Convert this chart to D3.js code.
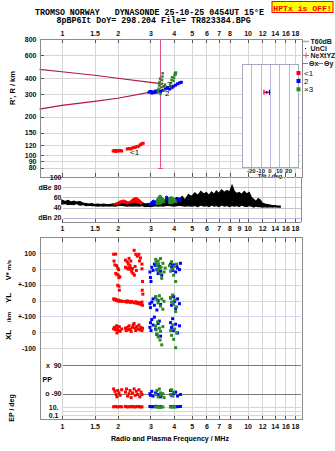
<!DOCTYPE html>
<html><head><meta charset="utf-8">
<script src="https://cdn.jsdelivr.net/npm/d3@7/dist/d3.min.js"></script>
<style>
body{margin:0;background:#fff;}
svg{display:block;}
text{font-family:"Liberation Sans",Arial,sans-serif;}
.mono{font-family:"Liberation Mono","DejaVu Sans Mono",monospace;white-space:pre;}
</style></head><body>
<svg id="c" width="335" height="451"></svg>
<script>
// ---------------- DATA ----------------
const titleLine1 = "TROMSO NORWAY   DYNASONDE 25-10-25 0454UT 15°E";
const titleLine2 = "8pBP6It DoY= 298.204 File= TR823384.BPG";
const warnText = "HPTx is OFF!";
const freqTicks = [1,1.5,2,3,4,5,6,7,8,10,12,14,16,18];
const freqTicksMid = [1,1.5,2,3,4,5,6,7,8,9,10,12,14,16,18];
const rangeTicks = [800,600,400,300,200,150,120,100,90,80];
const dbTicks = [100,80,60,40,20];
const dbTickLabels = ["100","dBe 80","60","40","dBn 20"];
const velTicks = [100,0,-100,-200,-300,-400,-500];
const velTickLabels = ["100","0","+-100","0","+-100","0","-100"];
const ppTicks = [90,-90];
const ppTickLabels = ["x  90","o -90"];
const epTicks = [10,0.1];
const epTickLabels = ["10.","0.1"];
const tiltTicks = [-20,-10,0,10,20];

// model curves (R', R km) dark red
const curveUpperF = [0.758,1.0,1.5,2.0,3.0,3.5];
const curveUpperR = [467,447,420,398,370,360];
const curveLowerF = [0.758,1.0,1.5,2.0,3.0,4.0];
const curveLowerR = [229,245,263,278,310,332];
// NeXtYZ vertical marker
const nexF = 3.36, nexLo = 80, nexHi = 800;

// echo traces (freq MHz, virtual range km)
const echo1 = [[1.89,108],[1.92,109],[1.95,107],[1.98,109],[2.02,108],[2.06,109],[2.1,108],
  [2.25,112],[2.3,113],[2.35,112],[2.4,114],[2.45,115],[2.5,116],[2.55,117],[2.6,118],[2.65,121],[2.7,123],[2.74,124]];
const echo2 = [[2.95,310],[3.0,314],[3.05,305],[3.1,312],[3.15,308],[3.2,316],[3.25,310],[3.3,318],[3.4,314],[3.5,320],
  [3.6,330],[3.7,336],[3.8,328],[3.9,340],[4.0,345],[4.1,352],[4.2,360],[4.3,366],[4.4,370]];
const echo3 = [[3.3,310],[3.32,330],[3.34,350],[3.36,372],[3.38,395],[3.3,320],[3.45,340],[3.46,360],[3.47,385],[3.48,410],[3.49,435],
  [3.4,300],[3.55,320],[3.56,345],
  [3.85,345],[3.87,365],[3.9,385],[3.92,405],[4.0,380],[4.02,400],[4.04,420],[4.06,438],[4.1,425],[4.12,440]];

// amplitude (dB) noise band, black
const noiseF  = [1.0,1.04,1.08,1.12,1.16,1.2,1.25,1.3,1.35,1.4,1.45,1.5,1.56,1.62,1.68,1.74,1.8,1.87,1.94,2.0,2.08,2.16,2.24,2.32,2.4,2.5,2.6,2.7,2.8,2.9,3.0,3.1,3.2,3.3,3.4,3.5,3.6,3.7,3.85,4.0,4.15,4.3,4.45,4.6,4.8,5.0,5.2,5.4,5.6,5.8,6.0,6.2,6.4,6.6,6.8,7.0,7.25,7.5,7.75,8.0,8.25,8.5,8.75,9.0,9.3,9.6,9.9,10.2,10.5,10.8,11.1,11.4,11.7,12.0,12.4,12.8,13.2,13.6,14.0,14.5,15.0];
const noiseLo = [47,48,46,47,46,48,45,46,44,45,44,44,43,44,43,44,43,44,43,44,45,44,43,44,43,44,43,44,42,43,42,43,44,43,44,43,44,45,44,43,44,45,44,43,44,43,44,42,45,43,44,42,45,43,44,42,45,43,44,42,44,43,44,42,45,43,42,44,43,41,43,42,42,41,42,41,42,41,42,41,41];
const noiseHi = [55,52,54,51,53,51,52,49,48,47,48,46,47,46,47,46,46,47,48,48,50,52,50,49,54,52,55,50,47,48,46,50,53,55,58,57,53,56,58,55,60,57,62,55,66,62,69,64,72,67,70,64,71,66,73,68,75,70,74,71,84,72,68,70,66,72,67,70,60,56,52,58,55,49,47,46,45,44,44,43,43];
// coloured echo amplitudes
const ampRedF  = [1.9,1.95,2.0,2.05,2.1,2.15,2.2,2.25,2.3,2.35,2.4,2.45,2.5,2.55,2.6,2.65,2.7];
const ampRedLo = [45,46,47,48,49,49,48,47,48,49,50,51,50,49,48,47,46];
const ampRedHi = [47,49,51,53,54,55,54,52,51,54,57,59,60,59,57,54,50];
const ampBlue = [[2.95,44,48],[3.0,44,50],[3.05,45,53],[3.1,46,55],[3.15,46,54],[3.2,47,52]];
const ampBlue2 = [[3.62,55,62],[3.68,56,63],[3.74,54,60]];
const ampBlue3 = [[4.17,52,58],[4.25,52,60],[4.32,53,58],[4.4,52,56]];
const ampGreen = [[3.22,45,55],[3.28,46,60],[3.34,47,64],[3.4,46,65],[3.46,48,61],[3.52,50,58],[3.58,49,56]];
const ampGreen2 = [[3.76,48,58],[3.84,47,62],[3.92,48,61],[4.0,49,60],[4.08,50,57],[4.15,49,55]];

// V* (m/s)
const vRed = [[1.9,92],[1.95,93],[1.91,49],[1.93,25],[1.97,20],[2.0,4],[2.02,-5],[1.95,-29],[1.98,-35],[2.01,-40],[2.03,-56],[2.05,-50],
  [2.0,-104],[2.03,-110],[2.04,-135],[2.2,55],[2.25,45],[2.3,66],[2.35,49],[2.2,10],[2.24,5],[2.28,-2],[2.32,8],[2.36,-5],[2.4,2],
  [2.38,-19],[2.42,-30],[2.46,-40],[2.45,117],[2.5,92],[2.55,80],[2.6,92],[2.65,69],[2.62,50],[2.7,30],[2.7,0],[2.72,-80],[2.71,-135],[2.73,-160],[2.48,15],[2.52,-10],[2.28,30],[2.33,20]];
const vBlue = [[2.98,-20],[3.0,-55],[3.02,-80],[3.05,10],[3.1,-10],[3.15,30],[3.2,20],[3.25,-5],[3.3,-30],[3.35,15],[3.4,-15],[3.45,-40],
  [3.85,30],[3.9,10],[3.95,-10],[4.0,25],[4.1,-20],[4.15,20],[4.2,5],[4.3,-5],[4.35,35]];
const vGreen = [[3.2,60],[3.22,40],[3.25,20],[3.28,-10],[3.3,50],[3.32,30],[3.35,0],[3.38,-30],[3.4,65],[3.42,10],[3.45,-60],[3.5,35],[3.55,-20],[3.6,5],
  [3.8,20],[3.85,-15],[3.9,45],[3.95,0],[4.0,-40],[4.05,15],[4.1,-80],[4.15,30]];
// YL (km)
const ylRed = [[1.9,10],[1.92,5],[1.95,8],[1.97,0],[2.0,-3],[2.02,2],[2.05,-5],[2.08,-2],[2.12,-6],[2.2,-5],[2.23,-10],[2.26,-3],[2.3,-8],[2.33,-12],
  [2.37,-6],[2.4,-10],[2.45,-14],[2.5,-8],[2.53,-18],[2.57,-12],[2.6,-20],[2.63,-15],[2.67,-25],[2.7,-10],[2.72,-30]];
const ylBlue = [[2.98,-20],[3.0,-45],[3.05,-10],[3.1,10],[3.15,-30],[3.2,20],[3.25,-60],[3.3,0],[3.4,-25],[3.85,15],[3.9,-30],[4.0,25],[4.05,-5],[4.1,-50],[4.2,10],[4.3,-20]];
const ylGreen = [[3.2,25],[3.25,5],[3.3,-15],[3.35,30],[3.4,-35],[3.45,10],[3.5,-55],[3.55,-5],[3.85,20],[3.9,-10],[3.95,35],[4.0,-25],[4.05,5],[4.1,-70],[4.15,-40]];
// XL (km)
const xlRed = [[1.9,20],[1.92,30],[1.95,15],[1.97,40],[2.0,25],[2.02,10],[2.04,35],[2.06,5],[1.98,-5],[2.1,20],[2.2,25],[2.22,10],[2.25,30],[2.28,15],
  [2.3,40],[2.33,20],[2.36,5],[2.4,30],[2.42,45],[2.45,55],[2.48,25],[2.5,10],[2.53,35],[2.57,20],[2.6,45],[2.63,15],[2.66,30],[2.7,10],[2.72,25]];
const xlBlue = [[2.98,30],[3.0,60],[3.02,10],[3.05,80],[3.1,45],[3.15,95],[3.2,20],[3.25,-15],[3.3,55],[3.35,70],[3.4,-25],[3.85,60],[3.9,30],[3.95,85],[4.0,10],[4.1,50],[4.2,-5],[4.3,40]];
const xlGreen = [[3.2,40],[3.22,15],[3.25,-10],[3.28,65],[3.3,-30],[3.35,25],[3.38,-50],[3.4,5],[3.45,-80],[3.5,35],[3.85,10],[3.9,-20],[3.95,45],[4.0,-45],[4.05,20],[4.1,-98],[4.15,-5]];
// PP (deg)
const ppRed = [[1.9,-60],[1.93,-75],[1.96,-95],[1.98,-110],[2.0,-70],[2.03,-85],[2.06,-100],[2.1,-65],[2.2,-80],[2.23,-60],[2.26,-105],[2.3,-90],
  [2.33,-70],[2.36,-115],[2.4,-85],[2.45,-60],[2.48,-100],[2.52,-75],[2.56,-95],[2.6,-65],[2.63,-110],[2.67,-80],[2.7,-95]];
const ppBlue = [[2.98,-90],[3.0,-100],[3.05,-75],[3.1,-105],[3.2,-85],[3.3,-95],[3.4,-110],[3.85,-70],[3.9,-100],[4.0,-90],[4.1,-80],[4.2,-105],[4.35,-95]];
const ppGreen = [[3.2,-95],[3.25,-70],[3.3,-110],[3.35,-60],[3.4,-85],[3.45,-100],[3.5,-90],[3.55,-115],[3.85,-95],[3.9,-65],[3.95,-105],[4.0,-80]];
// EP (deg)
const epRed = [[1.9,10],[1.95,12],[2.0,9],[2.05,11],[2.1,10],[2.2,12],[2.25,9],[2.3,11],[2.35,10],[2.4,12],[2.45,9],[2.5,10],[2.55,12],[2.6,11],[2.65,9],[2.7,10]];
const epBlue = [[2.98,12],[3.05,10],[3.1,11],[3.2,13],[3.3,10],[3.4,12],[3.85,11],[3.95,12],[4.1,10],[4.2,11],[4.35,12]];
const epGreen = [[3.2,9],[3.3,8],[3.35,10],[3.4,7],[3.5,9],[3.85,9],[3.95,8],[4.05,10]];
// tilt inset
const tiltX = [-3.5], tiltY = [13.5], tiltErr = [3];

// ---------------- DRAW ----------------
const C = {red:"#ff0000", blue:"#0000ff", green:"#2a8a2a", crim:"#b0183c", pink:"#e0508a",
  frame:"#8c8c8c", grid:"#d6d6d6", tick:"#555", dark:"#7a7a7a", lav:"#b8b8e0"};
const svg = d3.select("#c");
const L = 39.5, R = 301;
const fx = d3.scaleLog().domain([0.758,19.4]).range([L,R]);
const yR = d3.scaleLog().domain([67.4,800]).range([177.3,39.3]);
const dbL = 63;
const yDb = d3.scaleLinear().domain([12,100]).range([221.7,177.3]);
const yV = d3.scaleLinear().domain([-500,100]).range([348,253]);
const yPP = d3.scaleLinear().domain([-90,90]).range([393.7,365.3]);
const yEP = d3.scaleLog().domain([0.1,10]).range([415.3,406.8]);
const lowTop = 237, lowBot = 418.5;
const px = v => Math.round(v)+0.5;

// title
svg.append("text").attr("class","mono").attr("x",35).attr("y",15).attr("font-size",8.3).attr("font-weight","bold").text(titleLine1);
svg.append("text").attr("class","mono").attr("x",56.5).attr("y",23).attr("font-size",8.3).attr("font-weight","bold").text(titleLine2);
svg.append("rect").attr("x",272).attr("y",1.5).attr("width",61).attr("height",11).attr("fill","#ffff00").attr("stroke","#ff0000").attr("stroke-width",1);
svg.append("text").attr("class","mono").attr("x",302.5).attr("y",10.5).attr("text-anchor","middle").attr("font-size",8.1).attr("font-weight","bold").attr("fill","#ff0000").text(warnText);

function vgrid(g, ticks, y0, y1, x0){
  g.selectAll(null).data(ticks.filter(t=>fx(t)>=x0)).join("line")
    .attr("x1",d=>px(fx(d))).attr("x2",d=>px(fx(d))).attr("y1",y0).attr("y2",y1)
    .attr("stroke",C.grid).attr("shape-rendering","crispEdges");
}
function hgrid(g, vals, scale, x0, x1, color){
  g.selectAll(null).data(vals).join("line")
    .attr("x1",x0).attr("x2",x1).attr("y1",d=>px(scale(d))).attr("y2",d=>px(scale(d)))
    .attr("stroke",color||C.grid).attr("shape-rendering","crispEdges");
}
function styleAxis(g, size){
  g.select(".domain").remove();
  g.selectAll(".tick line").attr("stroke",C.tick).attr("shape-rendering","crispEdges");
  g.selectAll(".tick text").attr("font-size",size||7).attr("font-family","Liberation Sans, Arial, sans-serif").attr("font-weight","bold").attr("fill","#111");
}
function frame(x0,y0,x1,y1){
  svg.append("rect").attr("x",px(x0)).attr("y",px(y0)).attr("width",Math.round(x1-x0)).attr("height",Math.round(y1-y0))
    .attr("fill","none").attr("stroke",C.frame).attr("shape-rendering","crispEdges");
}

// ===== top panel =====
const gT = svg.append("g");
vgrid(gT, freqTicks, 39.3, 177.3, L);
hgrid(gT, rangeTicks.slice(1), yR, L, R);
// inset tilt box
const insX = d3.scaleLinear().domain([-30,30]).range([242,298]);
const insY = d3.scaleLinear().domain([-30,30]).range([167,64]);
gT.append("rect").attr("x",242.5).attr("y",64.5).attr("width",56).attr("height",103).attr("fill","#fff").attr("stroke","#a8a8c0").attr("shape-rendering","crispEdges");
gT.selectAll(null).data(tiltTicks).join("line").attr("x1",d=>px(insX(d))).attr("x2",d=>px(insX(d))).attr("y1",65).attr("y2",167)
  .attr("stroke",C.lav).attr("shape-rendering","crispEdges");
gT.selectAll(null).data(tiltTicks).join("text").attr("x",d=>insX(d)).attr("y",172.5).attr("text-anchor","middle")
  .attr("font-size",6).attr("font-weight","bold").attr("fill","#222").text(d=>d);
gT.append("text").attr("x",270).attr("y",177.5).attr("text-anchor","middle").attr("font-size",6).attr("font-weight","bold").attr("fill","#222").text("Tilt / deg");
tiltX.forEach((t,i)=>{
  const cx = insX(t), cy = insY(tiltY[i]), e = insX(t+tiltErr[i])-cx;
  gT.append("line").attr("x1",cx-e).attr("x2",cx+e).attr("y1",cy).attr("y2",cy).attr("stroke",C.red).attr("stroke-width",1.5);
  gT.append("line").attr("x1",cx-e).attr("x2",cx-e).attr("y1",cy-2.5).attr("y2",cy+2.5).attr("stroke",C.red).attr("stroke-width",1.2);
  gT.append("line").attr("x1",cx+e).attr("x2",cx+e).attr("y1",cy-2.5).attr("y2",cy+2.5).attr("stroke",C.blue).attr("stroke-width",1.2);
  gT.append("line").attr("x1",cx).attr("x2",cx).attr("y1",cy-1.5).attr("y2",cy+1.5).attr("stroke",C.blue).attr("stroke-width",1.2);
});
// curves
const lineR = d3.line().x(d=>fx(d[0])).y(d=>yR(d[1]));
gT.append("path").datum(curveUpperF.map((f,i)=>[f,curveUpperR[i]])).attr("d",lineR).attr("fill","none").attr("stroke",C.crim).attr("stroke-width",1.2);
gT.append("path").datum(curveLowerF.map((f,i)=>[f,curveLowerR[i]])).attr("d",lineR).attr("fill","none").attr("stroke",C.crim).attr("stroke-width",1.2);
// NeXtYZ
const nx = px(fx(nexF));
gT.append("line").attr("x1",nx).attr("x2",nx).attr("y1",yR(nexHi)).attr("y2",yR(nexLo)).attr("stroke",C.pink).attr("stroke-width",1);
[nexHi,nexLo].forEach(v=>gT.append("line").attr("x1",nx-2.5).attr("x2",nx+2.5).attr("y1",px(yR(v))).attr("y2",px(yR(v))).attr("stroke",C.pink));
// echoes
function squares(g, data, xs, ys, color, s){
  s = s||3;
  g.selectAll(null).data(data).join("rect").attr("x",d=>xs(d[0])-s/2).attr("y",d=>ys(d[1])-s/2).attr("width",s).attr("height",s).attr("fill",color);
}
squares(gT, echo1, fx, yR, C.red, 3);
squares(gT, echo2, fx, yR, C.blue, 3);
squares(gT, echo3, fx, yR, C.green, 2.5);
gT.append("text").attr("x",130).attr("y",155).attr("font-size",8).attr("fill","#000").text("<1");
gT.append("text").attr("x",165).attr("y",96).attr("font-size",8).attr("fill","#000").text("2");
gT.append("text").attr("x",163).attr("y",87).attr("font-size",7).attr("fill","#000").text("×3");
frame(L,39.3,R,177.3);
gT.append("g").attr("transform",`translate(0,39.3)`).call(d3.axisTop(fx).tickValues(freqTicks).tickFormat(d=>d).tickSize(-4).tickPadding(3)).call(styleAxis);
gT.append("g").attr("transform",`translate(0,177.3)`).call(d3.axisTop(fx).tickValues(freqTicks).tickFormat("").tickSize(4)).call(styleAxis);
gT.append("g").attr("transform",`translate(${L},0)`).call(d3.axisLeft(yR).tickValues(rangeTicks).tickFormat(d=>d).tickSize(-4).tickPadding(3)).call(styleAxis);
svg.append("text").attr("transform","translate(15,88) rotate(-90)").attr("text-anchor","middle").attr("font-size",7.5).attr("font-weight","bold").text("R', R / km");

// legend
const lg = svg.append("g").attr("font-size",7).attr("font-weight","bold").attr("fill","#111");
lg.append("line").attr("x1",303).attr("x2",309).attr("y1",41.5).attr("y2",41.5).attr("stroke","#aaa").attr("stroke-width",1.5);
lg.append("text").attr("x",310.5).attr("y",44).text("T60dB");
lg.append("rect").attr("x",305).attr("y",48).attr("width",1).attr("height",1).attr("fill","#000");
lg.append("text").attr("x",310.5).attr("y",51).text("UnCl");
lg.append("line").attr("x1",303).attr("x2",309).attr("y1",55.5).attr("y2",55.5).attr("stroke",C.pink);
lg.append("line").attr("x1",306).attr("x2",306).attr("y1",52.5).attr("y2",58.5).attr("stroke",C.pink);
lg.append("text").attr("x",310.5).attr("y",58).text("NeXtYZ");
lg.append("line").attr("x1",303).attr("x2",308).attr("y1",63.5).attr("y2",63.5).attr("stroke",C.pink);
lg.append("text").attr("x",309).attr("y",66).text("Θx");
lg.append("line").attr("x1",318).attr("x2",323).attr("y1",63.5).attr("y2",63.5).attr("stroke","#6a6ae0");
lg.append("text").attr("x",324).attr("y",66).text("Θy");
[[C.red,"<1",73],[C.blue," 2",81],[C.green,"×3",89.3]].forEach(([c,t,y])=>{
  lg.append("rect").attr("x",296.5).attr("y",y-2).attr("width",4).attr("height",4).attr("fill",c);
  lg.append("text").attr("x",304).attr("y",y+2.5).attr("font-size",8).attr("font-weight","normal").text(t);
});

// ===== dB panel =====
const gD = svg.append("g");
vgrid(gD, freqTicks, 177.3, 221.7, dbL);
hgrid(gD, [80,60,40], yDb, dbL, R, "#c4c4c4");
hgrid(gD, [20], yDb, dbL, R, C.lav);
const area = d3.area().x(d=>fx(d[0])).y0(d=>yDb(d[1])).y1(d=>yDb(d[2]));
gD.append("path").datum(noiseF.map((f,i)=>[f,noiseLo[i],noiseHi[i]])).attr("d",area).attr("fill","#000").attr("stroke","#000").attr("stroke-width",1.2).attr("stroke-linejoin","miter");
gD.append("path").datum(ampRedF.map((f,i)=>[f,ampRedLo[i],ampRedHi[i]])).attr("d",area).attr("fill",C.red).attr("stroke",C.red).attr("stroke-width",1);
[[ampBlue,C.blue],[ampGreen,C.green],[ampBlue2,C.blue],[ampGreen2,C.green],[ampBlue3,C.blue]].forEach(([d,c])=>
  gD.append("path").datum(d).attr("d",area).attr("fill",c).attr("stroke",c).attr("stroke-width",1));
svg.append("line").attr("x1",dbL).attr("x2",R).attr("y1",px(221.7)).attr("y2",px(221.7)).attr("stroke",C.frame).attr("shape-rendering","crispEdges");
svg.append("line").attr("x1",px(R)).attr("x2",px(R)).attr("y1",177.3).attr("y2",221.7).attr("stroke",C.frame).attr("shape-rendering","crispEdges");
gD.append("g").attr("transform",`translate(0,${px(221.7)})`).call(d3.axisBottom(fx).tickValues(freqTicksMid).tickFormat(d=>d).tickSize(-4).tickPadding(4)).call(styleAxis);
gD.append("g").attr("transform",`translate(${dbL},0)`).call(d3.axisLeft(yDb).tickValues(dbTicks).tickFormat((d,i)=>dbTickLabels[i]).tickSize(0).tickPadding(1.5)).call(styleAxis);

// ===== lower panel =====
const gL = svg.append("g");
vgrid(gL, freqTicks, lowTop, lowBot, L);
hgrid(gL, [100,0,-100,-400,-500], yV, L, R);
hgrid(gL, [-200,-300], yV, L, R, "#dcd2ea");
hgrid(gL, [10,1,0.1], yEP, dbL, R);
hgrid(gL, [90,-90], yPP, dbL, R, C.dark);
squares(gL, vRed, fx, yV, C.red);
squares(gL, vBlue, fx, yV, C.blue);
squares(gL, vGreen, fx, yV, C.green);
squares(gL, ylRed, fx, d=>yV(d-200), C.red);
squares(gL, ylBlue, fx, d=>yV(d-200), C.blue);
squares(gL, ylGreen, fx, d=>yV(d-200), C.green);
squares(gL, xlRed, fx, d=>yV(d-400), C.red);
squares(gL, xlBlue, fx, d=>yV(d-400), C.blue);
squares(gL, xlGreen, fx, d=>yV(d-400), C.green);
squares(gL, ppRed, fx, yPP, C.red);
squares(gL, ppBlue, fx, yPP, C.blue);
squares(gL, ppGreen, fx, yPP, C.green);
squares(gL, epRed, fx, yEP, C.red);
squares(gL, epBlue, fx, yEP, C.blue);
squares(gL, epGreen, fx, yEP, C.green);
frame(L,lowTop,R,lowBot);
gL.append("g").attr("transform",`translate(0,${px(lowTop)})`).call(d3.axisTop(fx).tickValues(freqTicks).tickFormat("").tickSize(-4)).call(styleAxis);
gL.append("g").attr("transform",`translate(0,${px(lowBot)})`).call(d3.axisBottom(fx).tickValues(freqTicks).tickFormat(d=>d).tickSize(-4).tickPadding(5)).call(styleAxis);
gL.append("g").attr("transform",`translate(${L},0)`).call(d3.axisLeft(yV).tickValues(velTicks).tickFormat((d,i)=>velTickLabels[i]).tickSize(0).tickPadding(3.5)).call(styleAxis);
gL.append("g").attr("transform",`translate(${dbL},0)`).call(d3.axisLeft(yPP).tickValues(ppTicks).tickFormat((d,i)=>ppTickLabels[i]).tickSize(0).tickPadding(1.5)).call(g=>{styleAxis(g);g.selectAll("text").style("white-space","pre");});
gL.append("g").attr("transform",`translate(${dbL-3},0)`).call(d3.axisLeft(yEP).tickValues(epTicks).tickFormat((d,i)=>epTickLabels[i]).tickSize(0).tickPadding(1.5)).call(styleAxis);
svg.append("text").attr("x",42.5).attr("y",381.5).attr("font-size",7).attr("font-weight","bold").text("PP");

// rotated lower labels
function rlab(x,y,parts){
  const t = svg.append("text").attr("transform",`translate(${x},${y}) rotate(-90)`).attr("text-anchor","middle").attr("font-weight","bold");
  parts.forEach(([s,fs])=>t.append("tspan").attr("font-size",fs).text(s));
}
rlab(11,270,[["V* ",7.5],["m/s",6]]);
rlab(11,298,[["YL",8]]);
rlab(11,317,[["/km",6]]);
rlab(11,335,[["XL",8]]);
rlab(14,408,[["EP / deg",7]]);

svg.append("text").attr("x",170).attr("y",441).attr("text-anchor","middle").attr("font-size",7).attr("font-weight","bold").text("Radio and Plasma Frequency / MHz");
</script>
</body></html>
